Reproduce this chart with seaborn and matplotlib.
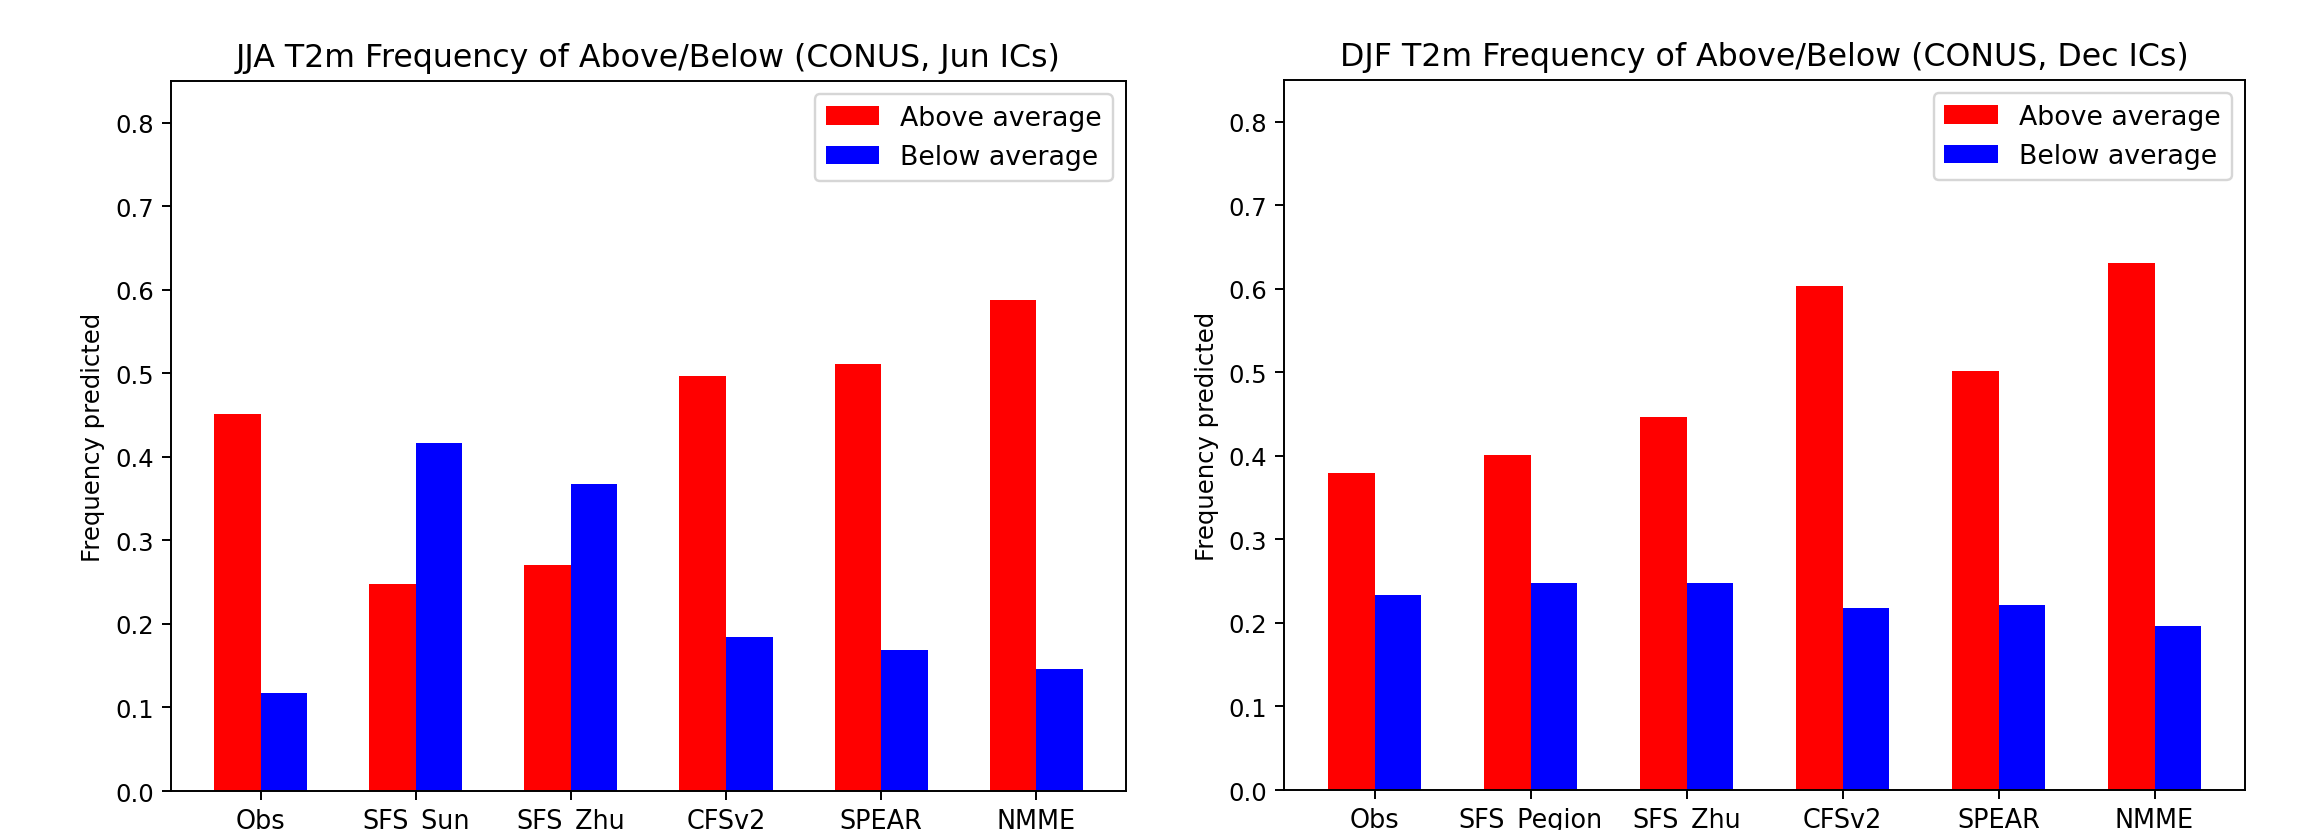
import numpy as np
import pandas as pd
import matplotlib
matplotlib.use('Agg')
import matplotlib.pyplot as plt
import seaborn as sns

# Values
jja_models = ['Obs', 'SFS_Sun', 'SFS_Zhu', 'CFSv2', 'SPEAR', 'NMME']
jja_above = [0.451, 0.248, 0.270, 0.497, 0.511, 0.588]
jja_below = [0.117, 0.417, 0.367, 0.184, 0.169, 0.146]

djf_models = ['Obs', 'SFS_Pegion', 'SFS_Zhu', 'CFSv2', 'SPEAR', 'NMME']
djf_above = [0.380, 0.401, 0.447, 0.603, 0.502, 0.631]
djf_below = [0.233, 0.248, 0.248, 0.218, 0.222, 0.196]

kinds = ['Above average', 'Below average']
colors = ['red', 'blue']

titles = ['JJA T2m Frequency of Above/Below (CONUS, Jun ICs)',
          'DJF T2m Frequency of Above/Below (CONUS, Dec ICs)']


def to_long(models, above, below):
    return pd.DataFrame({
        'model': models * 2,
        'kind': [kinds[0]] * len(models) + [kinds[1]] * len(models),
        'freq': list(above) + list(below),
    })


panels = [to_long(jja_models, jja_above, jja_below),
          to_long(djf_models, djf_above, djf_below)]

dpi = 175
fig = plt.figure(figsize=(2300 / dpi, 831 / dpi), dpi=dpi)
axes = [fig.add_axes([0.0743, 0.0469, 0.4153, 0.8544]),
        fig.add_axes([0.5583, 0.0481, 0.4178, 0.8544])]

for ax, df, title in zip(axes, panels, titles):
    sns.barplot(data=df, x='model', y='freq', hue='kind', hue_order=kinds,
                palette=colors, width=0.6, saturation=1, errorbar=None,
                linewidth=0, ax=ax)
    ax.set_xlim(-0.58, 5.58)
    ax.set_ylim(0, 0.85)
    ax.set_yticks(np.arange(0, 0.81, 0.1))
    ax.tick_params(axis='x', labelsize=10.5)
    ax.tick_params(axis='y', labelsize=10)
    ax.set_xlabel('')
    ax.set_ylabel('Frequency predicted', fontsize=10)
    ax.set_title(title, fontsize=13)
    sns.move_legend(ax, 'upper right', title=None, fontsize=11)

fig.savefig('out.png', dpi=dpi)
